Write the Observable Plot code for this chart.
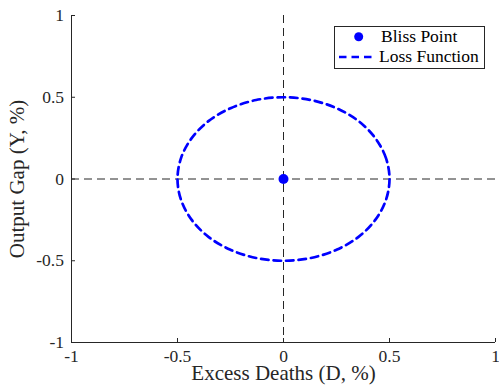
<!DOCTYPE html>
<html>
<head>
<meta charset="utf-8">
<script src="https://cdn.jsdelivr.net/npm/d3@7"></script>
<script src="https://cdn.jsdelivr.net/npm/@observablehq/plot@0.6"></script>
<style>
  html, body { margin: 0; padding: 0; background: #fff; }
  #wrap { position: relative; width: 499px; height: 392px; }
  #legend { position: absolute; left: 334px; top: 26px; }
  svg text { font-family: 'Liberation Serif', 'Times New Roman', serif; }
</style>
</head>
<body>
<div id="wrap"></div>
<script>
// ---- data ----
const xTicks = [-1, -0.5, 0, 0.5, 1];
const xTickLabels = ["-1", "-0.5", "0", "0.5", "1"];
const yTicks = [-1, -0.5, 0, 0.5, 1];
const yTickLabels = ["-1", "-0.5", "0", "0.5", "1"];
const xLabel = "Excess Deaths (D, %)";
const yLabel = "Output Gap (Y, %)";
const refLineD = [0];
const refLineY = [0];
const blissD = [0];
const blissY = [0];
// loss function contour
const lossD = [0.5, 0.483, 0.433, 0.354, 0.25, 0.129, 0, -0.129, -0.25, -0.354, -0.433, -0.483,
               -0.5, -0.483, -0.433, -0.354, -0.25, -0.129, 0, 0.129, 0.25, 0.354, 0.433, 0.483];
const lossY = [0, 0.129, 0.25, 0.354, 0.433, 0.483, 0.5, 0.483, 0.433, 0.354, 0.25, 0.129,
               0, -0.129, -0.25, -0.354, -0.433, -0.483, -0.5, -0.483, -0.433, -0.354, -0.25, -0.129];
const legendLabels = ["Bliss Point", "Loss Function"];

const loss = lossD.map((d, i) => ({D: d, Y: lossY[i]}));
const bliss = blissD.map((d, i) => ({D: d, Y: blissY[i]}));

const W = 499, H = 392;
const mL = 71, mR = 4, mT = 15, mB = 50;
const plotW = W - mL - mR, plotH = H - mT - mB;
const axisColor = "#262626";
const fontFam = "'Liberation Serif', 'Times New Roman', serif";

const chart = Plot.plot({
  width: W, height: H,
  marginLeft: mL, marginRight: mR, marginTop: mT, marginBottom: mB,
  x: {domain: [xTicks[0], xTicks[xTicks.length - 1]], axis: null},
  y: {domain: [yTicks[0], yTicks[yTicks.length - 1]], axis: null},
  style: {fontFamily: fontFam, fontSize: "17px", color: axisColor, background: "white", overflow: "visible"},
  marks: [
    Plot.ruleX(refLineD, {x: d => d, stroke: "#262626", strokeWidth: 1, strokeDasharray: "8,5"}),
    Plot.ruleY(refLineY, {y: d => d, stroke: "#262626", strokeWidth: 1, strokeDasharray: "8,5"}),
    Plot.line(loss, {x: "D", y: "Y", curve: "catmull-rom-closed", stroke: "#0000ff",
      strokeWidth: 2.7, strokeDasharray: "7.5,5"}),
    Plot.dot(bliss, {x: "D", y: "Y", r: 5, fill: "#0000ff", stroke: "none"}),
    Plot.ruleX([xTicks[0]], {x: d => d, stroke: axisColor, strokeWidth: 1}),
    Plot.ruleY([yTicks[0]], {y: d => d, stroke: axisColor, strokeWidth: 1}),
    Plot.tickX(xTicks, {x: d => d, insetTop: plotH - 4, stroke: axisColor, strokeWidth: 1}),
    Plot.tickY(yTicks, {y: d => d, insetRight: plotW - 4, stroke: axisColor, strokeWidth: 1}),
    // tick labels
    Plot.text(xTicks, {x: d => d, text: (d, i) => xTickLabels[i], frameAnchor: "bottom",
      textAnchor: "middle", lineAnchor: "middle", dy: 14.3, fontSize: 17.5, fill: axisColor}),
    Plot.text(yTicks, {y: d => d, text: (d, i) => yTickLabels[i], frameAnchor: "left",
      textAnchor: "end", lineAnchor: "middle", dx: -7.5, fontSize: 17.5, fill: axisColor}),
    // axis labels
    Plot.text([xLabel], {text: d => d, frameAnchor: "bottom", textAnchor: "middle", lineAnchor: "middle",
      dy: 31, fontSize: 21, fill: axisColor}),
    Plot.text([yLabel], {text: d => d, frameAnchor: "left", textAnchor: "middle", lineAnchor: "middle",
      rotate: -90, dx: -54, fontSize: 21, fill: axisColor})
  ]
});
document.getElementById("wrap").appendChild(chart);

// legend (HTML overlay with inline svg)
const lw = 150, lh = 42;
const leg = d3.select("#wrap").append("svg")
  .attr("id", "legend")
  .attr("width", lw + 1).attr("height", lh + 1);
leg.append("rect").attr("x", 0.5).attr("y", 0.5).attr("width", lw).attr("height", lh)
  .attr("fill", "white").attr("stroke", axisColor).attr("stroke-width", 1);
leg.append("circle").attr("cx", 24.7).attr("cy", 10.7).attr("r", 4.5).attr("fill", "#0000ff");
leg.append("line").attr("x1", 5).attr("x2", 42).attr("y1", 31).attr("y2", 31)
  .attr("stroke", "#0000ff").attr("stroke-width", 2.7).attr("stroke-dasharray", "7.5,5");
leg.append("text").attr("x", 47).attr("y", 16).attr("font-size", 17.5).attr("font-family", fontFam)
  .attr("fill", "#000").text(legendLabels[0]);
leg.append("text").attr("x", 45).attr("y", 36).attr("font-size", 17.5).attr("font-family", fontFam)
  .attr("fill", "#000").text(legendLabels[1]);
</script>
</body>
</html>
